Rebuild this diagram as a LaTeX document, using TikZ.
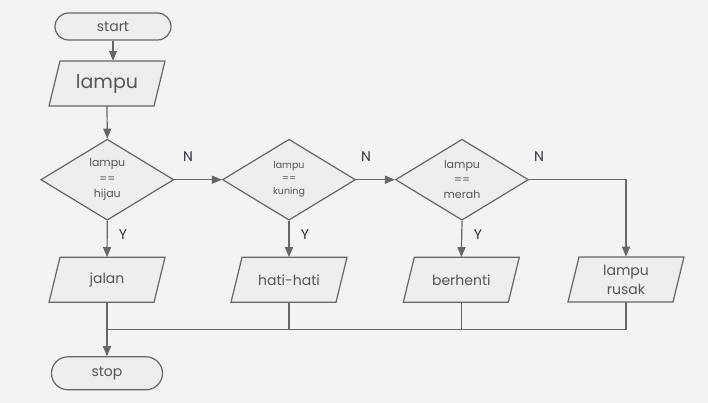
\documentclass[tikz,border=0pt]{standalone}
\usepackage{fontspec}
\setmainfont{Poppins}
\usetikzlibrary{shapes.geometric,shapes.misc,arrows.meta,calc}
\definecolor{bg}{HTML}{F3F3F3}
\definecolor{shapefill}{HTML}{EEEEEE}
\definecolor{stroke}{HTML}{666666}
\definecolor{txt}{HTML}{555555}
\definecolor{lbl}{HTML}{333344}
\tikzset{
  base/.style={draw=stroke, fill=shapefill, line width=1.2pt, text=txt, inner sep=0pt, align=center},
  term/.style={base, rounded rectangle},
  io/.style={inner sep=0pt, align=center, text=txt, rectangle, minimum width=105pt, minimum height=45pt},
  paraline/.style={draw=stroke, fill=shapefill, line width=1.2pt, line join=miter},
  dec/.style={base, diamond, minimum width=133pt, minimum height=81pt},
  conn/.style={draw=stroke, line width=1.2pt},
  arr/.style={conn, -{Triangle[length=10pt,width=8pt]}},
  yn/.style={text=lbl, font=\fontsize{14}{16}\selectfont},
}
% #1 name, #2 position, #3 font, #4 text
\newcommand\paranode[4]{%
  \path[paraline] ($#2+(-47,-22.5)$) -- ($#2+(58,-22.5)$) -- ($#2+(47,22.5)$) -- ($#2+(-58,22.5)$) -- cycle;
  \node[io, font=#3] (#1) at #2 {#4};
}
\begin{document}
\begin{tikzpicture}[x=1pt,y=-1pt]
\fill[bg] (0,0) rectangle (708,403);
\useasboundingbox (0,0) rectangle (708,403);
\node[term, minimum width=116pt, minimum height=27pt, font=\fontsize{14}{16}\selectfont] (start) at (113,26.5) {start};
\paranode{lampu}{(107,83.5)}{\fontsize{19}{22}\selectfont}{lampu}
\node[dec, font=\fontsize{11}{15.5}\selectfont] (d1) at (107.3,179.7) {lampu\\==\\hijau};
\node[dec, font=\fontsize{9.5}{13}\selectfont] (d2) at (289,179.7) {lampu\\==\\kuning};
\node[dec, font=\fontsize{11}{15}\selectfont] (d3) at (462,179.7) {lampu\\==\\merah};
\paranode{jalan}{(107,279.8)}{\fontsize{14}{16}\selectfont}{jalan}
\paranode{hati}{(289,279.8)}{\fontsize{14}{16}\selectfont}{hati-hati}
\paranode{berhenti}{(461.3,279.8)}{\fontsize{14}{16}\selectfont}{berhenti}
\paranode{rusak}{(626,279.4)}{\fontsize{14}{19}\selectfont}{lampu\\rusak}
\node[term, minimum width=111pt, minimum height=33pt, font=\fontsize{14}{16}\selectfont] (stop) at (107,373.3) {stop};
\coordinate (m) at (107,329.3);
\node[yn] (n1) at (188,157) {N};
\node[yn] (n2) at (366,157) {N};
\node[yn] (n3) at (539,157) {N};
\node[yn] (y1) at (123,235) {Y};
\node[yn] (y2) at (305,235) {Y};
\node[yn] (y3) at (478,235) {Y};
\draw[arr] (start.south) -- (start.south |- lampu.north);
\draw[arr] (lampu.south) -- (d1.north);
\draw[arr] (d1.east) -- (d2.west);
\draw[arr] (d2.east) -- (d3.west);
\draw[arr] (d3.east) -| (rusak.north);
\draw[arr] (d1.south) -- (jalan.north);
\draw[arr] (d2.south) -- (hati.north);
\draw[arr] (d3.south) -- (berhenti.north);
\draw[conn] (jalan.south) -- (m);
\draw[conn] (hati.south) -- (hati.south |- m);
\draw[conn] (berhenti.south) -- (berhenti.south |- m);
\draw[conn] (rusak.south) |- (m);
\draw[arr] (m) -- (stop.north);
\end{tikzpicture}
\end{document}
